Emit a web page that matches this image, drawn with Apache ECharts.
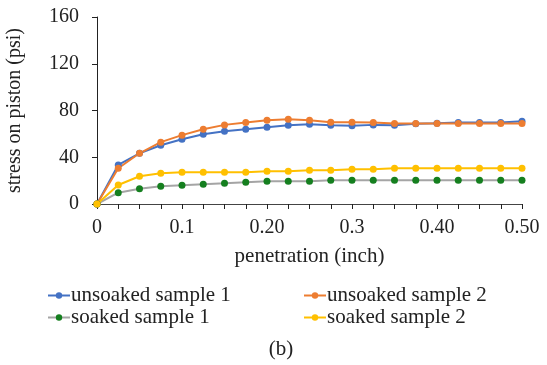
<!DOCTYPE html>
<html>
<head>
<meta charset="utf-8">
<script src="https://cdn.jsdelivr.net/npm/echarts@6/dist/echarts.min.js"></script>
<style>html,body{margin:0;padding:0;background:#fff;}#c{width:547px;height:365px;}</style>
</head>
<body>
<div id="c"></div>
<script>
const categories = ["0","0.025","0.05","0.075","0.1","0.125","0.15","0.175","0.20","0.225","0.25","0.275","0.3","0.325","0.35","0.375","0.40","0.425","0.45","0.475","0.50"];
const unsoaked1 = [0,33.4,43.4,50.3,55.4,59.7,62.3,64,65.7,67.4,68.3,67.4,66.9,67.7,67.4,68.6,69.1,69.7,69.7,69.7,70.9];
const unsoaked2 = [0,30.6,43.4,52.9,58.9,64,67.7,69.7,71.7,72.6,71.7,70,70,69.7,68.9,68.9,68.9,68.9,68.9,68.9,68.9];
const soaked1 = [0,9.7,13.1,15.1,16,16.9,17.7,18.6,19.4,19.4,19.4,20.3,20.3,20.3,20.3,20.3,20.3,20.3,20.3,20.3,20.3];
const soaked2 = [0,16.3,23.7,26.3,27.1,27.1,27.1,27.1,28,28,28.9,28.9,29.7,29.7,30.6,30.6,30.6,30.6,30.6,30.6,30.6];
const yTicks = {min:0, max:160, interval:40};

const FONT = 'Liberation Serif';
const chart = echarts.init(document.getElementById('c'), null, {renderer:'canvas'});

function mkSeries(name, data, lineColor, markColor){
  return {
    name, type:'line', data,
    symbol:'circle', symbolSize:7,
    lineStyle:{color:lineColor, width:2},
    itemStyle:{color:markColor},
    z: 2,
    animation:false
  };
}

const legendCommon = {
  orient:'vertical', itemWidth:22, itemHeight:8, itemGap:1,
  textStyle:{fontFamily:FONT, fontSize:21, color:'#222', padding:[0,0,0,-4]},
  padding:0
};

chart.setOption({
  animation:false,
  backgroundColor:'#fff',
  textStyle:{fontFamily:FONT, fontSize:20, color:'#222'},
  grid:{left:97, right:25, top:17, bottom:161, containLabel:false, outerBoundsMode:'none'},
  title:{text:'(b)', left:276, top:334, textAlign:'center',
    textStyle:{fontFamily:FONT, fontSize:21, fontWeight:'normal', color:'#222'}},
  legend:[
    Object.assign({left:47, top:285, data:['unsoaked sample 1','soaked sample 1']}, legendCommon),
    Object.assign({left:303, top:285, data:['unsoaked sample 2','soaked sample 2']}, legendCommon)
  ],
  xAxis:{
    type:'category', data:categories, boundaryGap:false,
    name:'penetration (inch)', nameLocation:'middle', nameGap:42,
    nameTextStyle:{fontFamily:FONT, fontSize:21, color:'#222'},
    axisLine:{lineStyle:{color:'#444', width:1}},
    axisTick:{interval:0, length:5, lineStyle:{color:'#222'}},
    axisLabel:{interval:3, margin:14, fontFamily:FONT, fontSize:20, color:'#222'},
    splitLine:{show:false}
  },
  yAxis:{
    type:'value', min:yTicks.min, max:yTicks.max, interval:yTicks.interval,
    name:'stress on piston (psi)', nameLocation:'middle', nameGap:72, nameRotate:90,
    nameTextStyle:{fontFamily:FONT, fontSize:20, color:'#222'},
    axisLine:{show:true, lineStyle:{color:'#222', width:1}},
    axisTick:{show:true, length:5, lineStyle:{color:'#222'}},
    axisLabel:{margin:18, fontFamily:FONT, fontSize:20, color:'#222'},
    splitLine:{show:false}
  },
  series:[
    mkSeries('unsoaked sample 1', unsoaked1, '#4472C4', '#4472C4'),
    mkSeries('unsoaked sample 2', unsoaked2, '#ED7D31', '#ED7D31'),
    mkSeries('soaked sample 1', soaked1, '#A5A5A5', '#157F1F'),
    mkSeries('soaked sample 2', soaked2, '#FFC000', '#FFC000')
  ]
});
</script>
</body>
</html>
